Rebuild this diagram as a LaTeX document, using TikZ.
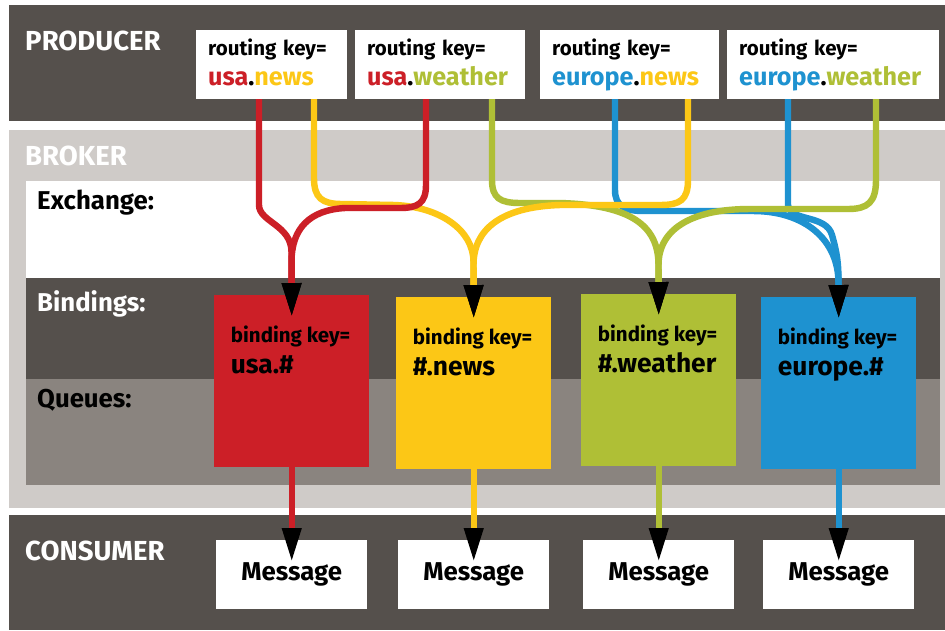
\documentclass[tikz,border=0pt]{standalone}
\usepackage{fontspec}
\setmainfont{Fira Sans}
\usepackage{xcolor}
\usepackage{tikz}
\usetikzlibrary{arrows.meta}

\definecolor{bandDark}{HTML}{55504C}
\definecolor{bandLight}{HTML}{CFCBC8}
\definecolor{bandMid}{HTML}{8A847F}
\definecolor{keyRed}{HTML}{CC1F27}
\definecolor{keyYellow}{HTML}{FCC716}
\definecolor{keyGreen}{HTML}{AFBF36}
\definecolor{keyBlue}{HTML}{1E92D0}

\tikzstyle{route} = [line width=5.5pt,-{Triangle[length=29pt,width=15.5pt,color=black]}]
\tikzstyle{rkbox} = [fill=white,anchor=north west,minimum height=2.06cm,inner xsep=0.36cm,align=left,font=\bfseries\fontsize{17.5}{25.5}\selectfont]
\tikzstyle{bkbox} = [anchor=north west,minimum width=4.65cm,minimum height=5.16cm]
\tikzstyle{bktext} = [anchor=north west,align=left,inner sep=0pt,font=\bfseries\fontsize{17.5}{26}\selectfont]
\tikzstyle{msgbox} = [fill=white,anchor=north west,minimum width=4.53cm,minimum height=2.07cm,font=\bfseries\fontsize{22}{24}\selectfont]
\tikzstyle{bandlabel} = [anchor=base west,inner sep=0pt,font=\bfseries\fontsize{22}{24}\selectfont]
\tikzstyle{bandtitle} = [bandlabel,white,font=\bfseries\fontsize{23.5}{24}\selectfont]

\newcommand{\keypart}[1]{{\fontsize{21.5}{25.5}\selectfont\vphantom{p}#1}}
\newcommand{\bindpart}[1]{{\fontsize{22.5}{26}\selectfont #1}}

\begin{document}
\begin{tikzpicture}[x=0.03cm,y=-0.03cm]
	\useasboundingbox (0,0) rectangle (945,630);

	% Bands:
	\fill[bandDark] (9,5) rectangle (945,121);
	\fill[bandLight] (9,130) rectangle (945,508);
	\fill[white] (26,181) rectangle (940,278);
	\fill[bandDark] (26,278) rectangle (940,379);
	\fill[bandMid] (26,379) rectangle (940,485);
	\fill[bandDark] (9,515) rectangle (945,630);

	% Band labels:
	\node[bandtitle] (producer) at (25,50) {PRODUCER};
	\node[bandtitle] (broker) at (25,165) {BROKER};
	\node[bandlabel,black] (exchange) at (37,209) {Exchange:};
	\node[bandlabel,white] (bindings) at (37,311) {Bindings:};
	\node[bandlabel,black] (queues) at (37,407) {Queues:};
	\node[bandtitle] (consumer) at (25,560) {CONSUMER};

	% Producer: one box per routing key
	\node[rkbox,text width=3.81cm] (rk1) at (196,30) {routing key=\\\keypart{\textcolor{keyRed}{usa}.\textcolor{keyYellow}{news}}};
	\node[rkbox,text width=4.38cm] (rk2) at (355,30) {routing key=\\\keypart{\textcolor{keyRed}{usa}.\textcolor{keyGreen}{weather}}};
	\node[rkbox,text width=4.65cm] (rk3) at (540,30) {routing key=\\\keypart{\textcolor{keyBlue}{europe}.\textcolor{keyYellow}{news}}};
	\node[rkbox,text width=5.64cm] (rk4) at (727,30) {routing key=\\\keypart{\textcolor{keyBlue}{europe}.\textcolor{keyGreen}{weather}}};

	% Queues with their binding keys
	\node[bkbox,fill=keyRed] (bk1) at (214,295) {};
	\node[bkbox,fill=keyYellow] (bk2) at (396,297) {};
	\node[bkbox,fill=keyGreen] (bk3) at (581,294) {};
	\node[bkbox,fill=keyBlue] (bk4) at (761,297) {};
	\foreach \n/\k in {1/usa.\#,2/\#.news,3/\#.weather,4/europe.\#}
	{
		\node[bktext] (bk\n text) at ([xshift=0.5cm,yshift=-0.92cm]bk\n.north west) {binding key=\\\bindpart{\k}};
	}

	% Consumer: messages
	\node[msgbox] (msg1) at (216,540) {Message};
	\node[msgbox] (msg2) at (398,540) {Message};
	\node[msgbox] (msg3) at (583,540) {Message};
	\node[msgbox] (msg4) at (763,540) {Message};

	% Routes through the exchange (drawn back to front):
	\draw[route,keyBlue] (rk3.south -| 615,0) -- (615,190) .. controls (615,206) and (625,211) .. (643,211) -- (753,211) .. controls (805,211) and (838.5,240) .. (838.5,283) -- ([yshift=-0.66cm]bk4.north);
	\draw[route,keyBlue] (rk4.south -| 788,0) -- (788,205) .. controls (790,222) and (826,214) .. (832,235) .. controls (837,253) and (838.5,262) .. (838.5,283) -- ([yshift=-0.66cm]bk4.north);

	\draw[route,keyGreen] (rk2.south -| 492,0) -- (492,180) .. controls (492,198) and (500,203) .. (520,203) -- (560,203) .. controls (630,205) and (658.5,225) .. (658.5,265) -- ([yshift=-0.66cm]bk3.north);
	\draw[route,keyGreen] (rk4.south -| 876,0) -- (876,180) .. controls (876,202) and (868,209) .. (848,209) -- (750,209) .. controls (690,209) and (658.5,230) .. (658.5,265) -- ([yshift=-0.66cm]bk3.north);

	\draw[route,keyYellow] (rk1.south -| 314,0) -- (314,178) .. controls (314,198) and (322,204) .. (342,204) -- (395,205) .. controls (440,207) and (473.5,230) .. (473.5,262) -- ([yshift=-0.66cm]bk2.north);
	\draw[route,keyYellow] (rk3.south -| 688,0) -- (688,180) .. controls (688,200) and (680,205) .. (660,205) -- (560,205) .. controls (500,207) and (473.5,230) .. (473.5,265) -- ([yshift=-0.66cm]bk2.north);

	\draw[route,keyRed] (rk1.south -| 259,0) -- (259,205) .. controls (259,222) and (291.5,225) .. (291.5,252) -- ([yshift=-0.66cm]bk1.north);
	\draw[route,keyRed] (rk2.south -| 426,0) -- (426,185) .. controls (426,203) and (418,208) .. (400,208) -- (345,208) .. controls (310,210) and (291.5,228) .. (291.5,262) -- ([yshift=-0.66cm]bk1.north);

	% Queues to consumers:
	\draw[route,keyRed] (bk1.south) -- ([yshift=-0.66cm]msg1.north);
	\draw[route,keyYellow] (bk2.south) -- ([yshift=-0.66cm]msg2.north);
	\draw[route,keyGreen] (bk3.south) -- ([yshift=-0.66cm]msg3.north);
	\draw[route,keyBlue] (bk4.south) -- ([yshift=-0.66cm]msg4.north);

\end{tikzpicture}
\end{document}
